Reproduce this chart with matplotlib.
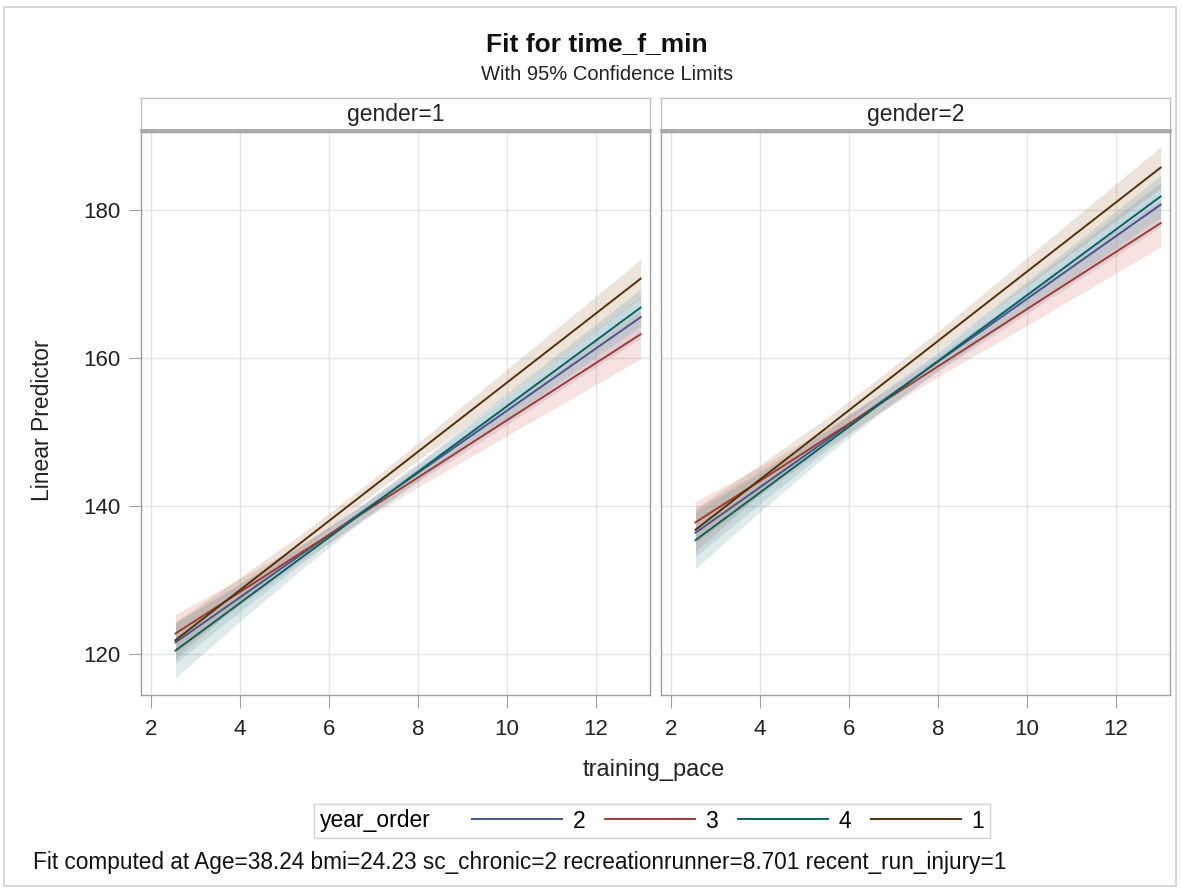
import numpy as np
import matplotlib
matplotlib.use("Agg")
import matplotlib.pyplot as plt
from matplotlib.lines import Line2D
from matplotlib.patches import Rectangle
from matplotlib.offsetbox import HPacker

plt.rcParams['font.family'] = ['Liberation Sans', 'DejaVu Sans']

# ---------------- data ----------------
groups = ["2", "3", "4", "1"]
panels = ["gender=1", "gender=2"]
x_range = [2.55, 13.0]          # fitted lines span this training_pace range
band_x = [2.55, 4.0, 5.5, 6.8, 8.0, 10.0, 13.0]

# fitted (straight-line) values at start / end of x_range
fit_g1 = {"2": [121.6, 165.5], "3": [122.8, 163.2], "4": [120.5, 166.8], "1": [121.9, 170.7]}
fit_g2 = {"2": [136.4, 180.7], "3": [137.8, 178.2], "4": [135.4, 181.8], "1": [136.8, 185.7]}

# half-widths of 95% confidence limits at band_x
hw_g1 = {
    "2": [2.8, 1.9, 1.2, 1.0, 1.2, 1.9, 2.8],
    "3": [2.6, 1.8, 1.1, 1.0, 1.3, 2.1, 3.3],
    "4": [3.7, 2.5, 1.5, 1.1, 1.2, 1.7, 2.5],
    "1": [2.5, 1.7, 1.1, 1.0, 1.2, 1.8, 2.6],
}
hw_g2 = {
    "2": [3.2, 2.2, 1.4, 1.2, 1.3, 2.0, 3.0],
    "3": [2.8, 1.9, 1.3, 1.2, 1.4, 2.2, 3.2],
    "4": [3.8, 2.6, 1.6, 1.3, 1.3, 1.9, 2.8],
    "1": [2.9, 2.0, 1.3, 1.2, 1.3, 1.9, 2.8],
}
fits = [fit_g1, fit_g2]
hws = [hw_g1, hw_g2]

line_colors = {"2": "#445694", "3": "#A23A2E", "4": "#01665E", "1": "#543005"}
band_colors = {"2": "#7C95CA", "3": "#DE7E6F", "4": "#66A5A0", "1": "#A9865B"}

xticks = [2, 4, 6, 8, 10, 12]
yticks = [120, 140, 160, 180]

# ---------------- figure ----------------
W, H = 1182, 890
fig = plt.figure(figsize=(W / 100, H / 100), dpi=100)

def fx(px):
    return px / W

def fy(py):
    return 1 - py / H

fig.patches.append(Rectangle((fx(4), fy(886)), fx(1176) - fx(4), fy(7) - fy(886),
                             transform=fig.transFigure, fill=False,
                             edgecolor="#D0D0D0", lw=1.2))

panel_px = [(141, 650), (661, 1170)]
top_px, bot_px = 132, 695
strip_top = 98

for i, (l, r) in enumerate(panel_px):
    ax = fig.add_axes([fx(l), fy(bot_px), fx(r) - fx(l), fy(top_px) - fy(bot_px)])
    bx = np.array(band_x)
    for g in groups:
        f = np.interp(bx, x_range, fits[i][g])
        hw = np.array(hws[i][g])
        ax.fill_between(bx, f - hw, f + hw, color=band_colors[g], alpha=0.22, lw=0)
    for g in groups:
        ax.plot(x_range, fits[i][g], color=line_colors[g], lw=1.4)
    ax.set_xlim(1.775, 13.21)
    ax.set_ylim(114.5, 190.5)
    ax.set_xticks(xticks)
    ax.set_yticks(yticks)
    ax.grid(True, color="#E4E4E4", lw=1.0)
    ax.set_axisbelow(True)
    for s in ax.spines.values():
        s.set_color("#A0A0A0")
        s.set_linewidth(1.0)
    ax.tick_params(axis="both", labelsize=16, color="#A0A0A0", length=9,
                   labelcolor="#222222")
    ax.tick_params(axis="x", pad=8)
    ax.tick_params(axis="y", pad=6)
    if i == 1:
        ax.tick_params(axis="y", left=False, labelleft=False)
    sax = fig.add_axes([fx(l), fy(top_px - 2), fx(r) - fx(l), fy(strip_top) - fy(top_px - 2)])
    sax.set_xticks([])
    sax.set_yticks([])
    for s in sax.spines.values():
        s.set_color("#C0C0C0")
        s.set_linewidth(1.0)
    sax.spines["bottom"].set_linewidth(2.0)
    sax.spines["bottom"].set_color("#A8A8A8")
    sax.text(0.5, 0.5, panels[i], ha="center", va="center", fontsize=16.5,
             color="#222222", transform=sax.transAxes)

fig.text(fx(597), fy(44), "Fit for time_f_min", ha="center", va="center",
         fontsize=19, fontweight="bold", color="#111111")
fig.text(fx(607), fy(74), "With 95% Confidence Limits", ha="center", va="center",
         fontsize=14.5, color="#222222")
fig.text(fx(43), fy(420), "Linear Predictor", ha="center", va="center",
         rotation=90, fontsize=16.5, color="#222222")
fig.text(fx(654), fy(770), "training_pace", ha="center", va="center",
         fontsize=17, color="#222222")

handles = [Line2D([], [], color=line_colors[g], lw=1.4) for g in groups]
leg = fig.legend(handles, groups, loc="center", bbox_to_anchor=(fx(652), fy(821)),
                 ncol=4, frameon=True, fontsize=16.5, title="year_order",
                 handlelength=3.9, columnspacing=0.87, handletextpad=0.48,
                 borderpad=0.25, fancybox=False)
leg.get_frame().set_edgecolor("#C8C8C8")
leg.get_frame().set_linewidth(1.0)
title_box = leg._legend_title_box
body = leg._legend_handle_box
leg._legend_box._children = [HPacker(pad=0, sep=30, align="center",
                                     children=[title_box, body])]
leg.get_title().set_fontsize(16.5)

fig.text(fx(33), fy(862),
         "Fit computed at Age=38.24 bmi=24.23 sc_chronic=2 recreationrunner=8.701 recent_run_injury=1",
         ha="left", va="center", fontsize=16.3, color="#111111")

fig.savefig("out.png", dpi=100)
